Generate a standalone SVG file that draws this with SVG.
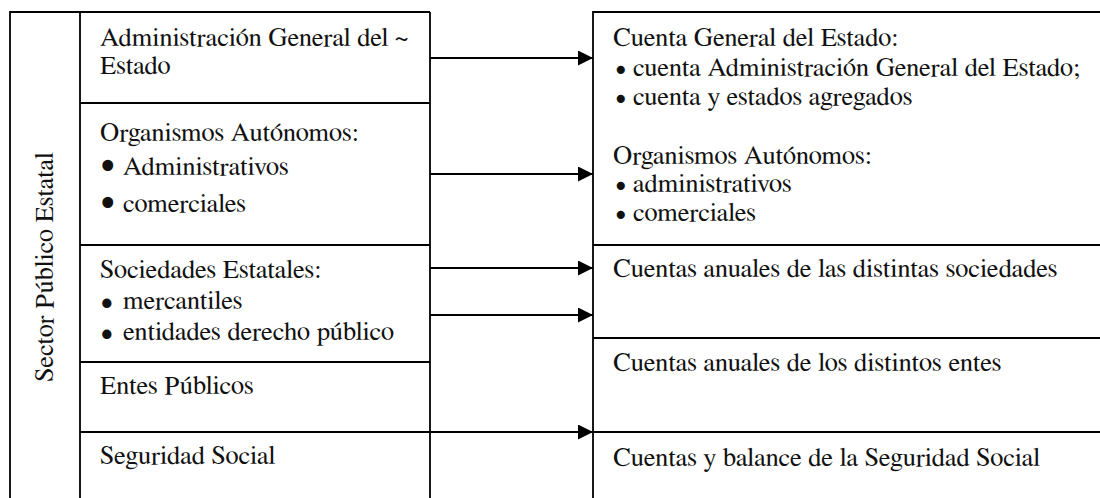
<svg xmlns="http://www.w3.org/2000/svg" width="1100" height="498" viewBox="0 0 1100 498">
<defs>
<style>
.ln{stroke:#000;stroke-width:1.8;fill:none}
text{font-family:FreeSerif,'Liberation Serif',serif;font-size:26.5px;fill:#111}
.b1{font-size:40px}
.b2{font-size:34px}
.b3{font-size:30px}
.ar{stroke:#000;stroke-width:1.8;fill:none;marker-end:url(#ah)}
</style>
<marker id="ah" markerWidth="15" markerHeight="15" refX="15" refY="7.5" orient="auto" markerUnits="userSpaceOnUse">
<path d="M0,0 L15,7.5 L0,15 Z" fill="#000"/>
</marker>
</defs>
<rect width="1100" height="498" fill="#fff"/>
<g id="sector">
<path class="ln" d="M10,498 V12 H430 M80,12 V498 M430,12 V498"/>
<text transform="translate(53,267) rotate(-90)" text-anchor="middle">Sector Público Estatal</text>
</g>
<g id="age">
<path class="ln" d="M80,103 H430"/>
<text x="100" y="46">Administración General del ~</text>
<text x="100" y="74">Estado</text>
</g>
<g id="oa">
<path class="ln" d="M80,245 H430"/>
<text x="100" y="141">Organismos Autónomos:</text>
<text class="b1" x="99.7" y="175">•</text>
<text x="123" y="175">Administrativos</text>
<text class="b1" x="99.7" y="212">•</text>
<text x="123" y="212">comerciales</text>
</g>
<g id="se">
<path class="ln" d="M80,362 H430"/>
<text x="100" y="278">Sociedades Estatales:</text>
<text class="b2" x="100" y="312">•</text>
<text x="123" y="309">mercantiles</text>
<text class="b2" x="100" y="343">•</text>
<text x="123" y="340">entidades derecho público</text>
</g>
<g id="ep">
<path class="ln" d="M80,432 H430"/>
<text x="100" y="394">Entes Públicos</text>
</g>
<g id="ss">
<text x="100" y="464">Seguridad Social</text>
</g>
<g id="cge">
<path class="ln" d="M1100,12 H593 V498"/>
<text x="613" y="46">Cuenta General del Estado:</text>
<text class="b3" x="614.8" y="76.5">•</text>
<text x="633" y="76">cuenta Administración General del Estado;</text>
<text class="b3" x="614.8" y="105.5">•</text>
<text x="633" y="105">cuenta y estados agregados</text>
<text x="613" y="164">Organismos Autónomos:</text>
<text class="b3" x="614.8" y="192.5">•</text>
<text x="633" y="192">administrativos</text>
<text class="b3" x="614.8" y="221.5">•</text>
<text x="633" y="221">comerciales</text>
</g>
<g id="cas">
<path class="ln" d="M593,245 H1100"/>
<text x="613" y="277">Cuentas anuales de las distintas sociedades</text>
</g>
<g id="cae">
<path class="ln" d="M593,338 H1100"/>
<text x="613" y="371">Cuentas anuales de los distintos entes</text>
</g>
<g id="cbss">
<path class="ln" d="M593,432 H1100"/>
<text x="613" y="466">Cuentas y balance de la Seguridad Social</text>
</g>
<g id="connectors">
<path class="ar" d="M430,58 H593"/>
<path class="ar" d="M430,174 H593"/>
<path class="ar" d="M430,268 H593"/>
<path class="ar" d="M430,315 H593"/>
<path class="ar" d="M430,432 H593"/>
</g>
</svg>
